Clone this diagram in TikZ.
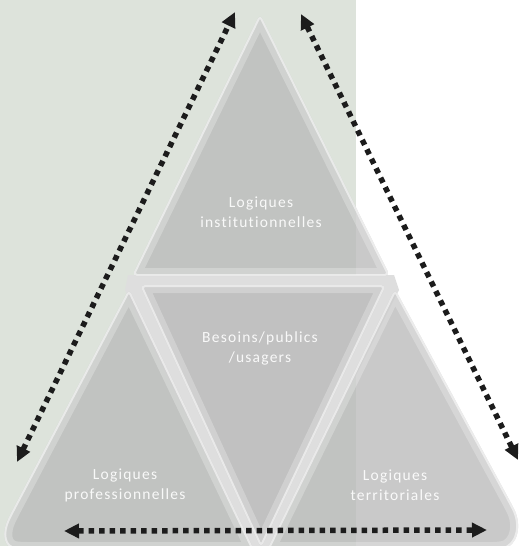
\documentclass[tikz,border=0pt]{standalone}
\usepackage{fontspec}
\setmainfont{Carlito}[LetterSpace=8,Ligatures=CommonOff]
\usetikzlibrary{arrows.meta}
\definecolor{bggreen}{RGB}{221,227,219}
\definecolor{segfill}{RGB}{186,186,186}
\definecolor{gapfill}{RGB}{222,222,222}
\definecolor{dotcol}{RGB}{28,28,28}
\tikzset{
  segbase/.style={fill=segfill, fill opacity=0.78},
  glowwide/.style={draw=white, draw opacity=0.25, line width=16pt},
  glowthin/.style={draw=white, draw opacity=0.55, line width=4pt},
  dotarrow/.style={draw=dotcol, line width=5.5pt, dash pattern=on 5.5pt off 5pt,
    {Triangle[length=15pt,width=14pt]}-{Triangle[length=15pt,width=14pt]}},
  lbl/.style={text=white, text opacity=0.9, align=center, font=\fontsize{15.5}{20}\selectfont},
}
\newcommand\pyrseg[1]{%
  \fill[segbase, rounded corners=5pt] #1;
  \begin{scope}
    \clip[rounded corners=5pt] #1;
    \draw[glowwide, rounded corners=5pt] #1;
    \draw[glowthin, rounded corners=5pt] #1;
  \end{scope}}
\begin{document}
\begin{tikzpicture}[x=1pt,y=-1pt]
\useasboundingbox (0,0) rectangle (520,546);
\fill[white] (0,0) rectangle (520,546);
\fill[bggreen] (0,0) rectangle (356,546);
% light joints between the segments
\fill[gapfill] (128,275) -- (394,275) -- (399,290) -- (268,550) -- (253,550) -- (125,290) -- cycle;
% segments of the pyramid
\pyrseg{(260,14) -- (390,276) -- (132,276) -- cycle}
\pyrseg{(140,285) -- (386,285) -- (261,548) -- cycle}
\pyrseg{(129,289) -- (254,550) -- (22,550) .. controls (2,548) and (2,532) .. (10,515) -- cycle}
\pyrseg{(395,289) -- (512,505) .. controls (522,525) and (518,546) .. (498,550) -- (267,550) -- cycle}
% labels
\node[lbl] (inst) at (261,212) {Logiques\\institutionnelles};
\node[lbl] (besoins) at (260,348) {Besoins/publics\\/usagers};
\node[lbl] (prof) at (125,485) {Logiques\\professionnelles};
\node[lbl] (terr) at (395,485) {Logiques\\territoriales};
% arrows
\coordinate (lt) at (235,12);
\coordinate (lb) at (17,462);
\coordinate (rt) at (301,14);
\coordinate (rb) at (518,460);
\coordinate (bl) at (64,531);
\coordinate (br) at (487,530);
\draw[dotarrow] (lb) -- (lt);
\draw[dotarrow] (rt) -- (rb);
\draw[dotarrow] (bl) -- (br);
\end{tikzpicture}
\end{document}
